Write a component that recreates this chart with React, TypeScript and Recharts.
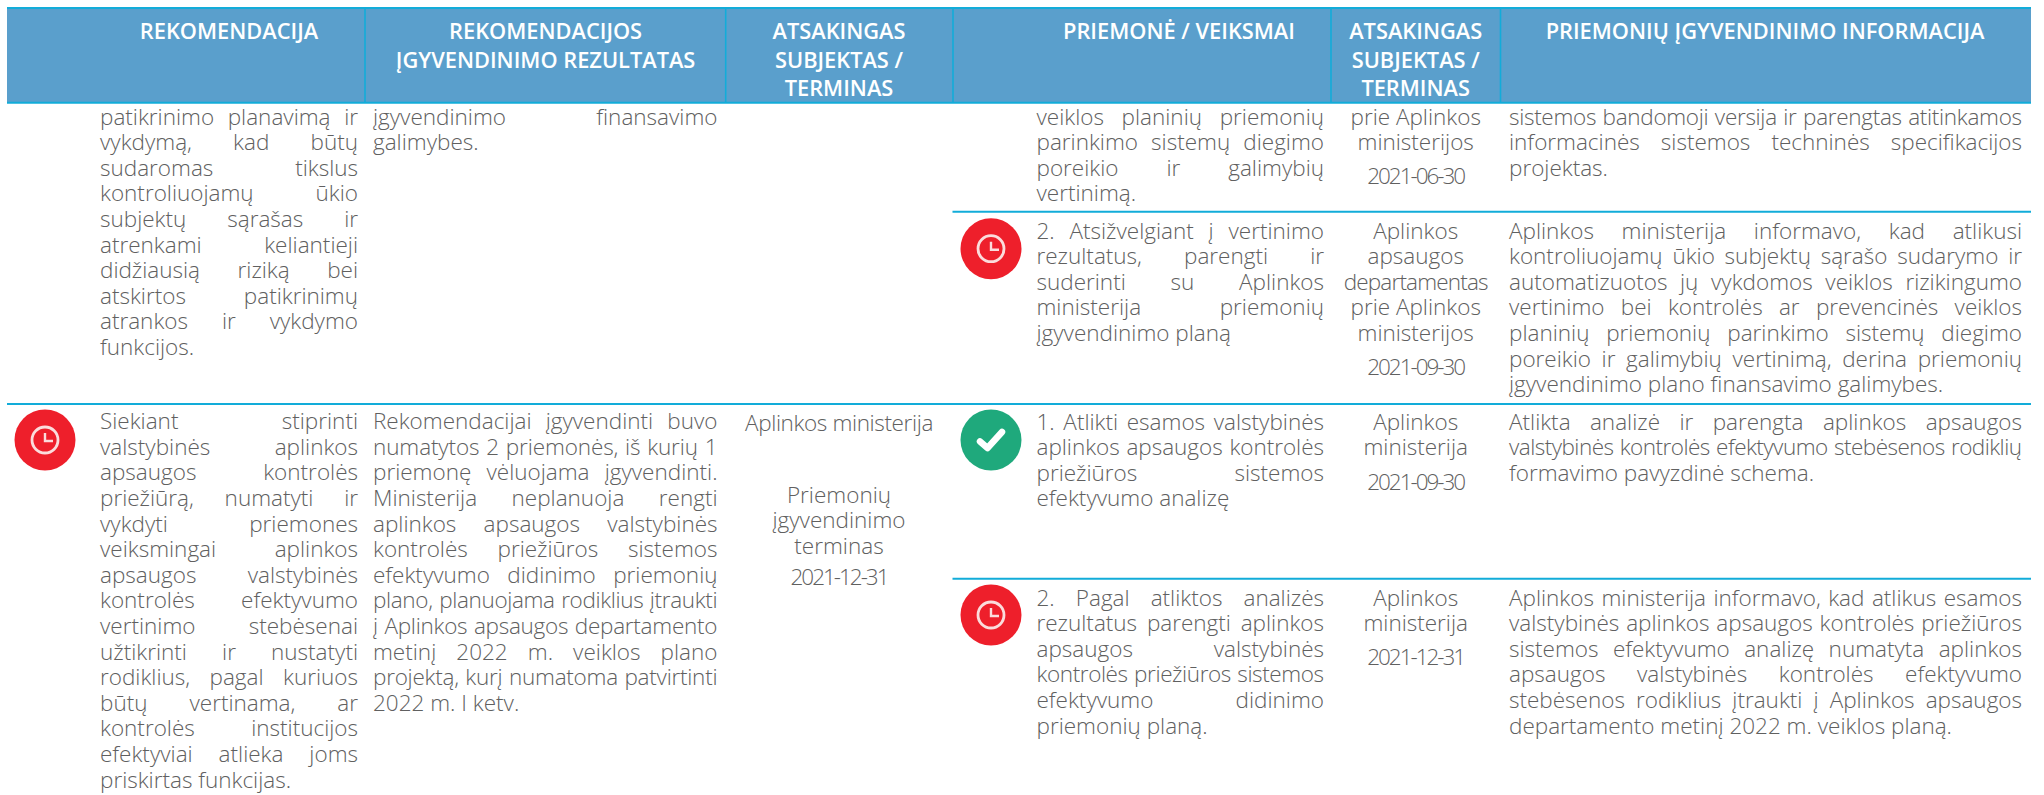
import React from "react";
import { ScatterChart, Scatter, XAxis, YAxis, ReferenceArea, ReferenceLine } from "recharts";

// ---- table content ----
const headRec = ["REKOMENDACIJA"];
const headRes = ["REKOMENDACIJOS", "ĮGYVENDINIMO REZULTATAS"];
const headOwner = ["ATSAKINGAS", "SUBJEKTAS /", "TERMINAS"];
const headAction = ["PRIEMONĖ / VEIKSMAI"];
const headInfo = ["PRIEMONIŲ ĮGYVENDINIMO INFORMACIJA"];

const recA = ["patikrinimo planavimą ir", "vykdymą, kad būtų", "sudaromas tikslus", "kontroliuojamų ūkio", "subjektų sąrašas ir", "atrenkami keliantieji", "didžiausią riziką bei", "atskirtos patikrinimų", "atrankos ir vykdymo", "funkcijos."];
const resA = ["įgyvendinimo finansavimo", "galimybes."];
const recB = ["Siekiant stiprinti", "valstybinės aplinkos", "apsaugos kontrolės", "priežiūrą, numatyti ir", "vykdyti priemones", "veiksmingai aplinkos", "apsaugos valstybinės", "kontrolės efektyvumo", "vertinimo stebėsenai", "užtikrinti ir nustatyti", "rodiklius, pagal kuriuos", "būtų vertinama, ar", "kontrolės institucijos", "efektyviai atlieka joms", "priskirtas funkcijas."];
const resB = ["Rekomendacijai įgyvendinti buvo", "numatytos 2 priemonės, iš kurių 1", "priemonę vėluojama įgyvendinti.", "Ministerija neplanuoja rengti", "aplinkos apsaugos valstybinės", "kontrolės priežiūros sistemos", "efektyvumo didinimo priemonių", "plano, planuojama rodiklius įtraukti", "į Aplinkos apsaugos departamento", "metinį 2022 m. veiklos plano", "projektą, kurį numatoma patvirtinti", "2022 m. I ketv."];
const ownerB = ["Aplinkos ministerija"];
const termB = ["Priemonių", "įgyvendinimo", "terminas"];
const termDateB = ["2021-12-31"];

const act1 = ["veiklos planinių priemonių", "parinkimo sistemų diegimo", "poreikio ir galimybių", "vertinimą."];
const act2 = ["2. Atsižvelgiant į vertinimo", "rezultatus, parengti ir", "suderinti su Aplinkos", "ministerija priemonių", "įgyvendinimo planą"];
const act3 = ["1. Atlikti esamos valstybinės", "aplinkos apsaugos kontrolės", "priežiūros sistemos", "efektyvumo analizę"];
const act4 = ["2. Pagal atliktos analizės", "rezultatus parengti aplinkos", "apsaugos valstybinės", "kontrolės priežiūros sistemos", "efektyvumo didinimo", "priemonių planą."];

const own1 = ["prie Aplinkos", "ministerijos"];
const date1 = ["2021-06-30"];
const own2 = ["Aplinkos", "apsaugos", "departamentas", "prie Aplinkos", "ministerijos"];
const date2 = ["2021-09-30"];
const own3 = ["Aplinkos", "ministerija"];
const date3 = ["2021-09-30"];
const own4 = ["Aplinkos", "ministerija"];
const date4 = ["2021-12-31"];

const info1 = ["sistemos bandomoji versija ir parengtas atitinkamos", "informacinės sistemos techninės specifikacijos", "projektas."];
const info2 = ["Aplinkos ministerija informavo, kad atlikusi", "kontroliuojamų ūkio subjektų sąrašo sudarymo ir", "automatizuotos jų vykdomos veiklos rizikingumo", "vertinimo bei kontrolės ar prevencinės veiklos", "planinių priemonių parinkimo sistemų diegimo", "poreikio ir galimybių vertinimą, derina priemonių", "įgyvendinimo plano finansavimo galimybes."];
const info3 = ["Atlikta analizė ir parengta aplinkos apsaugos", "valstybinės kontrolės efektyvumo stebėsenos rodiklių", "formavimo pavyzdinė schema."];
const info4 = ["Aplinkos ministerija informavo, kad atlikus esamos", "valstybinės aplinkos apsaugos kontrolės priežiūros", "sistemos efektyvumo analizę numatyta aplinkos", "apsaugos valstybinės kontrolės efektyvumo", "stebėsenos rodiklius įtraukti į Aplinkos apsaugos", "departamento metinį 2022 m. veiklos planą."];

// ---- layout ----
const W = 2044, H = 795;
const LH = 25.6;
const FONT = '"Open Sans", sans-serif';
const BODY_SIZE = 22.5;
const BODY_WEIGHT = 300;
const HEAD_SIZE = 21.8;
const HEAD_WEIGHT = 600;
const BASE_OFF = 7.5;
const TEXT = "#606060";
const HEADER_BG = "#5a9fcc";
const RULE = "#12acd9";
const DATE_WIDTH = 97;
const WIDTH_FITS: Record<string, number> = { departamentas: 144, "Aplinkos ministerija": 188 };
const MIN_WORD_GAP = 1;

const colRec = { l: 100, r: 358 };
const colRes = { l: 373, r: 717.5 };
const colOwner = { c: 839 };
const colAct = { l: 1036.5, r: 1324 };
const colOwn2 = { c: 1415.7 };
const colInfo = { l: 1509, r: 2022 };

const TOP = 7, HEAD_BOTTOM = 103, RIGHT = 2031, LEFT = 7;
const dividers = [365, 725.7, 953, 1331, 1500.5];
const headerEdges = [LEFT, ...dividers, RIGHT];

type Row = { x: number; y: number; text: string; w?: number; fit?: number; anchor: string; kind: string };

function justified(lines: string[], col: { l: number; r: number }, y0: number): Row[] {
  return lines.map((text, i) => ({
    x: col.l, y: y0 + i * LH, text,
    w: i < lines.length - 1 ? col.r - col.l : undefined, anchor: "start", kind: "body",
  }));
}
function centered(lines: string[], c: number, y0: number): Row[] {
  return lines.map((text, i) => ({ x: c, y: y0 + i * LH, text, fit: WIDTH_FITS[text], anchor: "middle", kind: "body" }));
}
function dated(lines: string[], c: number, y0: number): Row[] {
  return lines.map((text, i) => ({ x: c, y: y0 + i * LH, text, fit: DATE_WIDTH, anchor: "middle", kind: "body" }));
}

const bodyRows: Row[] = [
  ...justified(recA, colRec, 117),
  ...justified(resA, colRes, 117),
  ...justified(recB, colRec, 421.7),
  ...justified(resB, colRes, 421.7),
  ...centered(ownerB, colOwner.c, 423),
  ...centered(termB, colOwner.c, 495),
  ...dated(termDateB, colOwner.c, 577),
  ...justified(act1, colAct, 117),
  ...justified(act2, colAct, 231),
  ...justified(act3, colAct, 422),
  ...justified(act4, colAct, 598),
  ...centered(own1, colOwn2.c, 117),
  ...dated(date1, colOwn2.c, 176),
  ...centered(own2, colOwn2.c, 231),
  ...dated(date2, colOwn2.c, 367),
  ...centered(own3, colOwn2.c, 422),
  ...dated(date3, colOwn2.c, 482),
  ...centered(own4, colOwn2.c, 598),
  ...dated(date4, colOwn2.c, 657),
  ...justified(info1, colInfo, 117),
  ...justified(info2, colInfo, 231),
  ...justified(info3, colInfo, 422),
  ...justified(info4, colInfo, 598),
];

const HEAD_LH = 28.6;
const headRows: Row[] = ([
  [headRec, 229], [headRes, 545.6], [headOwner, 839], [headAction, 1179], [headOwner, 1415.7], [headInfo, 1765],
] as [string[], number][]).flatMap(([lines, c]) =>
  lines.map((text, i) => ({ x: c, y: 31 + i * HEAD_LH, text, anchor: "middle", kind: "head" })));

const icons = [
  { x: 991, y: 248.7, status: "late" },
  { x: 45, y: 440, status: "late" },
  { x: 991, y: 440, status: "done" },
  { x: 991, y: 615, status: "late" },
];

const rules = [
  { x1: LEFT, x2: RIGHT, y: 8 },
  { x1: LEFT, x2: RIGHT, y: 102.7 },
  { x1: 952.5, x2: RIGHT, y: 211.7 },
  { x1: LEFT, x2: RIGHT, y: 404 },
  { x1: 952.5, x2: RIGHT, y: 578.7 },
];

let ctx: CanvasRenderingContext2D | null = null;
function measure(text: string, font: string): number {
  if (!ctx) ctx = document.createElement("canvas").getContext("2d");
  ctx!.font = font;
  return ctx!.measureText(text).width;
}

const TextMark = (props: any) => {
  const { cx, cy, payload } = props;
  const isHead = payload.kind === "head";
  const size = isHead ? HEAD_SIZE : BODY_SIZE;
  const weight = isHead ? HEAD_WEIGHT : BODY_WEIGHT;
  const font = `${weight} ${size}px "Open Sans"`;
  const text: string = payload.text;
  let wordSpacing: number | undefined;
  let letterSpacing: number | undefined;
  if (payload.w) {
    const gaps = text.split(" ").length - 1;
    const natural = measure(text, font);
    if (gaps > 0) {
      wordSpacing = (payload.w - natural) / gaps;
      if (wordSpacing < MIN_WORD_GAP) {
        wordSpacing = MIN_WORD_GAP;
        letterSpacing = (payload.w - natural - gaps * MIN_WORD_GAP) / (text.length - 1);
      }
    }
  } else if (payload.fit) {
    letterSpacing = (payload.fit - measure(text, font)) / text.length;
  }
  return (
    <text x={cx} y={cy + (isHead ? 8 : BASE_OFF)} textAnchor={payload.anchor} fontFamily={FONT} fontSize={size}
      fontWeight={weight} fill={isHead ? "#ffffff" : TEXT} style={{ wordSpacing, letterSpacing }}>
      {text}
    </text>
  );
};

const IconMark = (props: any) => {
  const { cx, cy, payload } = props;
  if (payload.status === "done") {
    return (
      <g>
        <circle cx={cx} cy={cy} r={30.5} fill="#1fa97c" />
        <polyline points={`${cx - 11},${cy + 1.5} ${cx - 3.5},${cy + 8} ${cx + 11},${cy - 8}`} fill="none" stroke="#fff" strokeWidth={6.5} strokeLinecap="round" strokeLinejoin="round" />
      </g>
    );
  }
  return (
    <g>
      <circle cx={cx} cy={cy} r={30.5} fill="#ee1f2b" />
      <circle cx={cx} cy={cy} r={13} fill="none" stroke="#fbdcdc" strokeWidth={2.8} />
      <polyline points={`${cx},${cy - 7} ${cx},${cy + 1} ${cx + 8},${cy + 1}`} fill="none" stroke="#fbdcdc" strokeWidth={2.4} />
    </g>
  );
};

export default function App() {
  return (
    <div style={{ position: "absolute", left: 0, top: 0, width: W, height: H, background: "#fff" }}>
      <ScatterChart width={W} height={H} margin={{ top: 0, right: 0, bottom: 0, left: 0 }}>
        <XAxis type="number" dataKey="x" domain={[0, W]} hide />
        <YAxis type="number" dataKey="y" domain={[0, H]} reversed hide />
        {headerEdges.slice(0, -1).map((e, i) => (
          <ReferenceArea key={i} x1={e} x2={headerEdges[i + 1]} y1={TOP} y2={HEAD_BOTTOM} fill={HEADER_BG} fillOpacity={1} stroke="none" />
        ))}
        {dividers.map((d) => (
          <ReferenceLine key={d} segment={[{ x: d, y: TOP }, { x: d, y: HEAD_BOTTOM }]} stroke={RULE} strokeWidth={1.6} />
        ))}
        {rules.map((r) => (
          <ReferenceLine key={r.y} segment={[{ x: r.x1, y: r.y }, { x: r.x2, y: r.y }]} stroke={RULE} strokeWidth={2} />
        ))}
        <Scatter data={icons} isAnimationActive={false} shape={IconMark} />
        <Scatter data={headRows} isAnimationActive={false} shape={TextMark} />
        <Scatter data={bodyRows} isAnimationActive={false} shape={TextMark} />
      </ScatterChart>
    </div>
  );
}
